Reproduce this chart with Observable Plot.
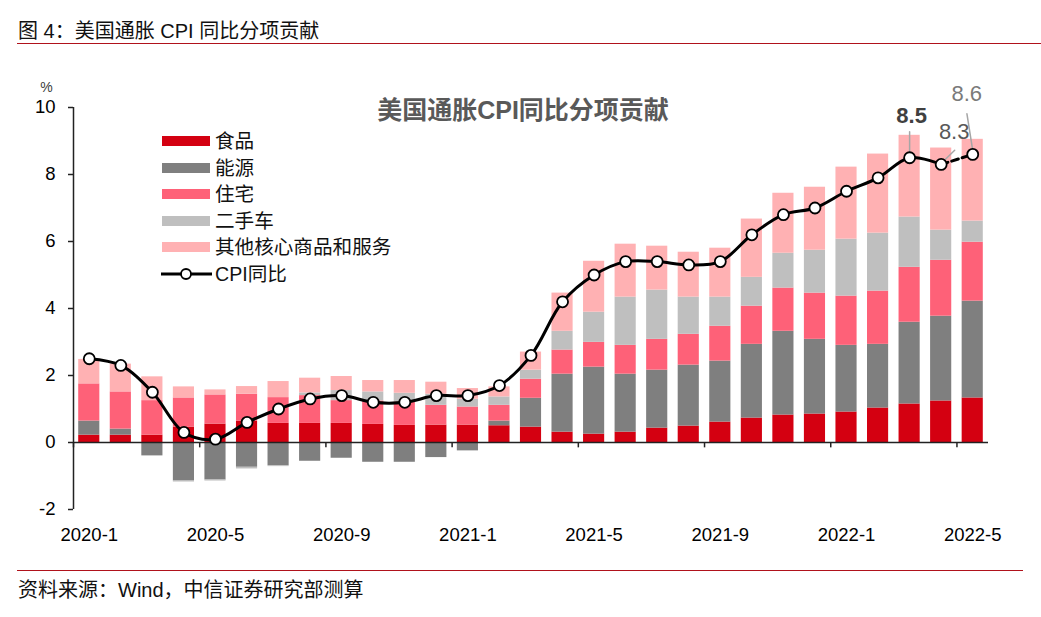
<!DOCTYPE html>
<html>
<head>
<meta charset="utf-8">
<script src="https://cdn.jsdelivr.net/npm/d3@7"></script>
<script src="https://cdn.jsdelivr.net/npm/@observablehq/plot@0.6"></script>
<style>
  html, body { margin: 0; padding: 0; background: #fff; }
  body { width: 1041px; height: 617px; position: relative; overflow: hidden;
         font-family: "Liberation Sans", "Noto Sans CJK SC", sans-serif; }
  .abs { position: absolute; }
  #figtitle { left: 18px; top: 20px; font-size: 20px; line-height: 22px; color: #111; white-space: nowrap; }
  #topline { left: 17px; top: 43px; width: 1024px; border-top: 1.5px solid #b0121b; }
  #chart { left: 0; top: 50px; }
  #botline { left: 17px; top: 569.5px; width: 1006px; border-top: 1.5px solid #b0121b; }
  #source { left: 18px; top: 579px; font-size: 20px; line-height: 22px; color: #111; white-space: nowrap; }
  #legend { left: 0; top: 0; }
  .item { position: absolute; left: 160px; height: 26px; white-space: nowrap; }
  .sw { position: absolute; left: 2px; top: 8px; width: 48px; height: 10px; }
  .lab { position: absolute; left: 55px; top: 1px; font-size: 19.6px; line-height: 24px; color: #111; }
</style>
</head>
<body>
<div id="figtitle" class="abs">图 4：美国通胀 CPI 同比分项贡献</div>
<div id="topline" class="abs"></div>
<div id="chart" class="abs"></div>
<div id="botline" class="abs"></div>
<div id="source" class="abs">资料来源：Wind，中信证券研究部测算</div>
<div id="legend" class="abs"></div>
<script>
// ---- data ----
const months = ["2020-1","2020-2","2020-3","2020-4","2020-5","2020-6","2020-7","2020-8","2020-9","2020-10","2020-11","2020-12",
  "2021-1","2021-2","2021-3","2021-4","2021-5","2021-6","2021-7","2021-8","2021-9","2021-10","2021-11","2021-12",
  "2022-1","2022-2","2022-3","2022-4","2022-5"];
const seriesNames = ["食品","能源","住宅","二手车","其他核心商品和服务"];
const food    = [0.22,0.22,0.22,0.46,0.55,0.63,0.57,0.57,0.57,0.54,0.51,0.52,0.52,0.50,0.46,0.31,0.25,0.31,0.43,0.49,0.61,0.73,0.82,0.85,0.91,1.03,1.15,1.24,1.33];
const energy  = [0.42,0.18,-0.40,-1.15,-1.12,-0.74,-0.69,-0.56,-0.47,-0.59,-0.59,-0.45,-0.25,0.14,0.86,1.73,2.00,1.73,1.73,1.82,1.82,2.20,2.50,2.23,1.99,1.90,2.44,2.53,2.89];
const housing = [1.11,1.11,1.03,0.87,0.87,0.81,0.77,0.83,0.68,0.70,0.70,0.59,0.54,0.47,0.57,0.72,0.74,0.86,0.92,0.92,1.04,1.14,1.29,1.38,1.47,1.59,1.64,1.67,1.76];
const usedCar = [0,0,0,-0.03,-0.03,-0.05,-0.03,0.08,0.30,0.27,0.26,0.33,0.23,0.25,0.27,0.56,0.90,1.44,1.47,1.11,0.87,0.86,1.04,1.28,1.70,1.73,1.50,0.90,0.63];
const other   = [0.73,0.83,0.71,0.33,0.15,0.23,0.48,0.44,0.42,0.34,0.38,0.36,0.32,0.30,0.54,1.14,1.52,1.58,1.31,1.34,1.46,1.74,1.79,1.88,2.15,2.36,2.44,2.45,2.44];
const cpi     = [2.5,2.3,1.5,0.3,0.1,0.6,1.0,1.3,1.4,1.2,1.2,1.4,1.4,1.7,2.6,4.2,5.0,5.4,5.4,5.3,5.4,6.2,6.8,7.0,7.5,7.9,8.5,8.3,8.6];
const xTickLabels = ["2020-1","2020-5","2020-9","2021-1","2021-5","2021-9","2022-1","2022-5"];
const yTicks = [-2,0,2,4,6,8,10];
const lineName = "CPI同比";
const chartTitle = "美国通胀CPI同比分项贡献";
const annoMonths = ["2022-3","2022-4","2022-5"];

// ---- styles ----
const colors = ["#d40011","#7f7f7f","#fe6178","#bfbfbf","#ffb1b3"];
const width = 1041, height = 510, mL = 73, mR = 53, mT = 57, mB = 51;
const padIn = 0.33, padOut = 0.165;
const step = (width - mL - mR) / (months.length - padIn + 2 * padOut);

const allSeries = [food, energy, housing, usedCar, other];
const barData = [];
allSeries.forEach((arr, s) => arr.forEach((v, i) => barData.push({month: months[i], series: seriesNames[s], value: v})));
const cpiData = cpi.map((v, i) => ({month: months[i], cpi: v}));
const annoData = cpiData.filter(d => annoMonths.includes(d.month));
const annoStyle = {
  "2022-3": {dx: 2, dy: -42, weight: "bold", fill: "#404040", ldx: 0, ldy: -4, len: 22, rot: 0},
  "2022-4": {dx: 13, dy: -32, weight: "normal", fill: "#595959", ldx: 2, ldy: -3, len: 16, rot: 46},
  "2022-5": {dx: -6, dy: -60, weight: "normal", fill: "#7a7a7a", ldx: 0, ldy: -4, len: 37, rot: -9}
};
const leaderShape = { draw(context, l) { context.moveTo(0, 0); context.lineTo(0, -l); } };
const boundaryMonths = xTickLabels;

const leaders = annoData.map(d => {
  const st = annoStyle[d.month];
  return Plot.vector([d], {x: "month", y: "cpi", length: st.len, rotate: st.rot, anchor: "start",
    shape: leaderShape, stroke: "#a6a6a6", strokeWidth: 1.5, dx: st.ldx, dy: st.ldy});
});
const annoTexts = annoData.map(d => {
  const st = annoStyle[d.month];
  return Plot.text([d], {x: "month", y: "cpi", text: e => e.cpi.toFixed(1), dx: st.dx, dy: st.dy,
    fontSize: 22, fontWeight: st.weight, fill: st.fill});
});

const chart = Plot.plot({
  width, height, marginLeft: mL, marginRight: mR, marginTop: mT, marginBottom: mB,
  style: {fontFamily: '"Liberation Sans", "Noto Sans CJK SC", sans-serif', background: "transparent", overflow: "visible"},
  x: {type: "band", domain: months, paddingInner: padIn, paddingOuter: padOut, round: false, axis: null},
  y: {domain: [-2, 10], axis: null},
  color: {domain: seriesNames, range: colors},
  marks: [
    Plot.barY(barData, {x: "month", y: "value", fill: "series"}),
    Plot.ruleY([0], {stroke: "#222", strokeWidth: 1.5}),
    Plot.ruleX(boundaryMonths, {y1: 0, y2: -0.16, dx: -step / 2, stroke: "#222", strokeWidth: 1.5}),
    Plot.ruleX([months[0]], {y1: -2, y2: 10, dx: -step / 2, stroke: "#222", strokeWidth: 1.5}),
    Plot.axisY({ticks: yTicks, tickFormat: d => `${d}`, tickSize: 5, tickPadding: 13, fontSize: 18.5, stroke: "#222", strokeWidth: 1.5, fill: "#000", label: null}),
    Plot.axisX({ticks: xTickLabels, tickSize: 0, tickPadding: 18, fontSize: 18.5, fill: "#000", label: null}),
    Plot.line(cpiData.slice(0, 28), {x: "month", y: "cpi", curve: "catmull-rom", stroke: "#000", strokeWidth: 3}),
    Plot.line(cpiData.slice(27), {x: "month", y: "cpi", stroke: "#000", strokeWidth: 3, strokeDasharray: "7,4"}),
    ...leaders,
    Plot.dot(cpiData, {x: "month", y: "cpi", r: 5.5, fill: "#fff", stroke: "#000", strokeWidth: 1.8}),
    ...annoTexts,
    Plot.text([chartTitle], {frameAnchor: "top", dx: -8, dy: -6, fontSize: 25, fontWeight: "bold", fill: "#595959"}),
    Plot.text(["%"], {frameAnchor: "top-left", textAnchor: "middle", dx: -27, dy: -25, fontSize: 14, fill: "#404040"})
  ]
});
document.getElementById("chart").appendChild(chart);

// ---- legend ----
const legend = document.getElementById("legend");
const rowTop0 = 128, rowStep = 26.5;
seriesNames.forEach((name, i) => {
  const it = document.createElement("div");
  it.className = "item";
  it.style.top = (rowTop0 + i * rowStep) + "px";
  it.innerHTML = `<div class="sw" style="background:${colors[i]}"></div><div class="lab">${name}</div>`;
  legend.appendChild(it);
});
const li = document.createElement("div");
li.className = "item";
li.style.top = (rowTop0 + 5 * rowStep) + "px";
li.innerHTML = `<svg width="54" height="26" style="position:absolute;left:0;top:0">
  <line x1="1" y1="13" x2="52" y2="13" stroke="#000" stroke-width="3"/>
  <circle cx="26" cy="13" r="5" fill="#fff" stroke="#000" stroke-width="1.8"/></svg>
  <div class="lab">${lineName}</div>`;
legend.appendChild(li);
</script>
</body>
</html>
